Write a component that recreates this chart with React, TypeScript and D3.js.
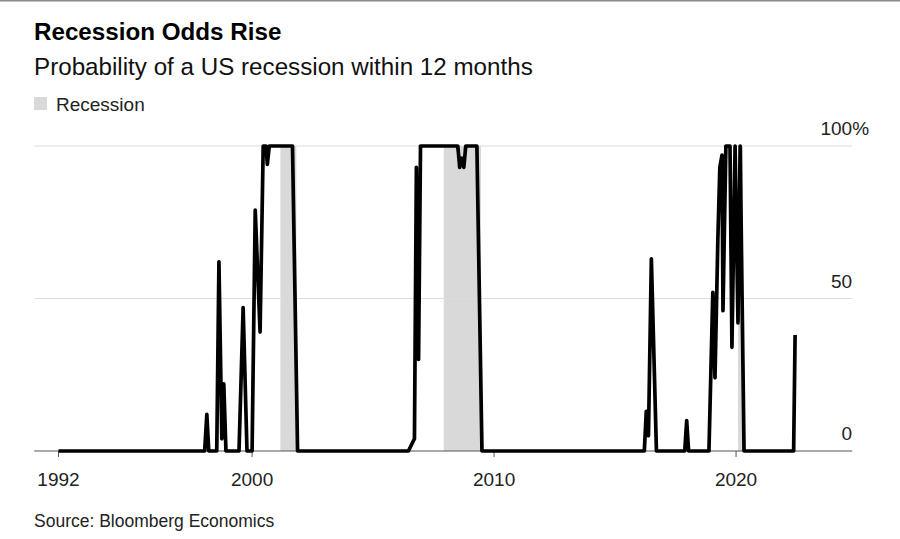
import * as d3 from "d3";

// probability of a US recession within 12 months (decimal years, %)
const probDates = [
  1992.0, 1998.04, 1998.13, 1998.21, 1998.54, 1998.63, 1998.75, 1998.83, 1998.92,
  1999.46, 1999.63, 1999.79, 1999.96, 2000.0, 2000.13, 2000.33, 2000.46, 2000.58,
  2000.63, 2000.71, 2001.67, 2001.88, 2006.46, 2006.71, 2006.79, 2006.88, 2006.96,
  2008.5, 2008.58, 2008.67, 2008.75, 2008.83, 2009.29, 2009.5, 2016.21, 2016.29,
  2016.38, 2016.5, 2016.71, 2017.88, 2017.96, 2018.04, 2018.88, 2019.04, 2019.13,
  2019.25, 2019.33, 2019.42, 2019.46, 2019.58, 2019.75, 2019.83, 2019.96, 2020.08,
  2020.17, 2020.33, 2022.38, 2022.44,
];
const probValues = [
  0, 0, 12, 0, 0, 62, 4, 22, 0,
  0, 47, 0, 0, 0, 79, 39, 100, 100,
  94, 100, 100, 0, 0, 4, 93, 30, 100,
  100, 93, 96, 93, 100, 100, 0, 0, 13,
  5, 63, 0, 0, 10, 0, 0, 52, 24,
  70, 93, 97, 46, 100, 100, 34, 100, 42,
  100, 0, 0, 38,
];

const recessionStarts = [2001.17, 2007.92, 2020.08];
const recessionEnds = [2001.83, 2009.46, 2020.29];

const yearTicks = [1992, 2000, 2010, 2020];
const valueTicks = [0, 50, 100];

const FONT = "'Liberation Sans', Arial, Helvetica, sans-serif";

export default function App() {
  const width = 900;
  const height = 539;

  const x = d3.scaleLinear().domain([1991, 2024.8]).range([34.3, 852.2]);
  const y = d3.scaleLinear().domain([0, 100]).range([451, 146]);

  const points: [number, number][] = probDates.map((d, i) => [d, probValues[i]]);
  const line = d3
    .line<[number, number]>()
    .x((d) => x(d[0]))
    .y((d) => y(d[1]));

  const [x0, x1] = x.range();

  return (
    <svg
      width={width}
      height={height}
      style={{ position: "absolute", left: 0, top: 0, background: "#fff" }}
      fontFamily={FONT}
    >
      <line x1={0} x2={width} y1={0.75} y2={0.75} stroke="#8a8a8a" strokeWidth={1.5} />

      <text x={34} y={40} fontSize={24.2} fontWeight="bold" fill="#000">
        Recession Odds Rise
      </text>
      <text x={34} y={75} fontSize={24.2} fill="#111">
        Probability of a US recession within 12 months
      </text>

      {/* legend */}
      <rect x={34} y={97} width={13} height={13} fill="#d9d9d9" />
      <text x={56} y={111} fontSize={19} fill="#222">
        Recession
      </text>

      {/* recession bands */}
      {recessionStarts.map((s, i) => (
        <rect
          key={s}
          x={x(s)}
          y={y(100)}
          width={x(recessionEnds[i]) - x(s)}
          height={y(0) - y(100)}
          fill="#d9d9d9"
        />
      ))}

      {/* gridlines + labels */}
      {valueTicks.map((v) => (
        <g key={v}>
          {v !== 0 && (
            <line x1={x0} x2={x1} y1={y(v)} y2={y(v)} stroke="#dcdcdc" strokeWidth={1} />
          )}
          <text x={x1} y={y(v) - 11} fontSize={19} fill="#222" textAnchor="end">
            {v}
          </text>
          {v === 100 && (
            <text x={x1} y={y(v) - 11} fontSize={19} fill="#222">
              %
            </text>
          )}
        </g>
      ))}

      {/* x axis */}
      <line x1={x0} x2={x1} y1={y(0)} y2={y(0)} stroke="#555" strokeWidth={1} />
      {yearTicks.map((t) => (
        <g key={t} transform={`translate(${x(t)},${y(0)})`}>
          <line y1={0} y2={6} stroke="#555" strokeWidth={1} />
          <text y={35} fontSize={19} fill="#222" textAnchor="middle">
            {t}
          </text>
        </g>
      ))}

      <path
        d={line(points) ?? ""}
        fill="none"
        stroke="#000"
        strokeWidth={3.7}
        strokeLinejoin="round"
        strokeLinecap="butt"
      />

      <text x={34} y={527} fontSize={17.5} fill="#222">
        Source: Bloomberg Economics
      </text>
    </svg>
  );
}
